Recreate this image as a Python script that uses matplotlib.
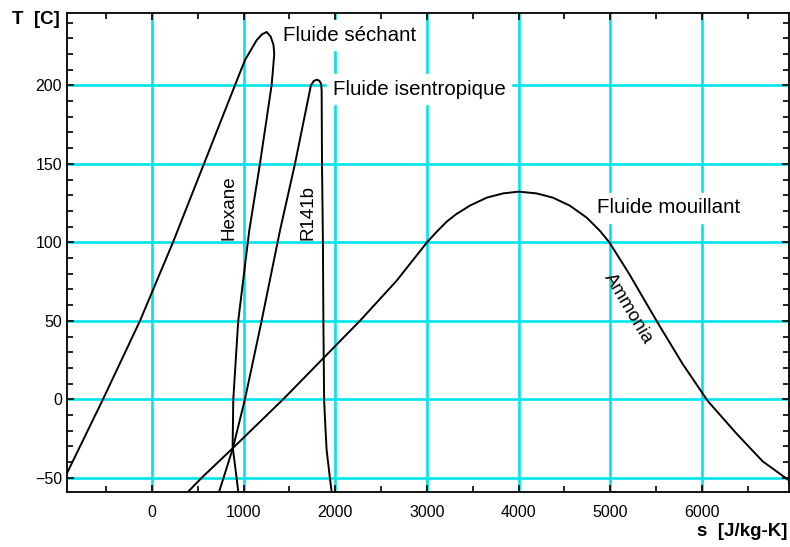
import matplotlib
matplotlib.use("Agg")
import matplotlib.pyplot as plt
from matplotlib.ticker import MultipleLocator

plt.rcParams['font.family'] = ['Liberation Sans', 'DejaVu Sans']

# saturation domes: entropy s [J/kg-K], temperature T [C]
hexane_s = [-1000, -927, -535, -131, 229, 567, 905, 1014, 1141, 1200, 1251,
            1295, 1325, 1334, 1320, 1305, 1178, 1061, 941, 887, 880, 923, 941]
hexane_T = [-55, -47, 0, 50, 100, 150, 200, 216, 228.7, 232.5, 234,
            231, 226, 220, 210, 200, 150, 107.4, 50, 0, -30, -50, -58.6]

r141b_s = [734, 883, 1014, 1196, 1396, 1560, 1734, 1765, 1796, 1825, 1845,
           1851, 1855, 1865, 1870, 1878, 1887, 1905, 1941, 1960]
r141b_T = [-58.6, -31, 0, 50, 107.4, 150, 200, 202.8, 203.6, 203, 201,
           197, 150, 100, 50, 0, -12, -32, -50, -58.6]

ammonia_s = [391, 541, 883, 1430, 2268, 2668, 3000, 3110, 3217, 3320, 3468,
             3653, 3831, 4000, 4195, 4373, 4558, 4744, 4886, 4990, 5205,
             5518, 5790, 6063, 6380, 6663, 6936]
ammonia_T = [-59, -50, -31, 0, 50, 75.5, 100, 107, 113.3, 118, 123.4,
             128.5, 131.2, 132.3, 131.2, 128.5, 123.4, 115.7, 107.4, 100, 80,
             48.7, 22.5, -1, -22, -39.5, -51]

x_ticks = [0, 1000, 2000, 3000, 4000, 5000, 6000]
y_ticks = [-50, 0, 50, 100, 150, 200]

fig = plt.figure(figsize=(7.9, 5.47), dpi=100)
ax = fig.add_axes([0.0848, 0.1005, 0.9140, 0.8755])

ax.set_xlim(-927, 6950)
ax.set_ylim(-59, 246)
ax.set_xticks(x_ticks)
ax.set_yticks(y_ticks)
ax.xaxis.set_minor_locator(MultipleLocator(500))
ax.yaxis.set_minor_locator(MultipleLocator(10))
ax.grid(True, which='major', color='#00e4ec', linewidth=1.9)
ax.set_axisbelow(True)
ax.tick_params(which='both', direction='in', top=True, right=True,
               width=1.2, color='black')
ax.tick_params(which='major', length=5, labelsize=11.5)
ax.tick_params(which='minor', length=4)
ax.tick_params(axis='x', pad=9.5)
ax.tick_params(axis='y', pad=3.5)
for sp in ax.spines.values():
    sp.set_linewidth(1.3)

for s, t in [(hexane_s, hexane_T), (r141b_s, r141b_T), (ammonia_s, ammonia_T)]:
    ax.plot(s, t, color='black', linewidth=1.4, solid_joinstyle='round', zorder=5)

# annotations (white boxes break the grid, curves stay on top)
ax.text(1429, 232, 'Fluide séchant', fontsize=14.8, ha='left', va='center',
        backgroundcolor='white', zorder=3)
ax.text(1974, 197.4, 'Fluide isentropique', fontsize=14.8, ha='left', va='center',
        backgroundcolor='white', zorder=3)
ax.text(4853, 122, 'Fluide mouillant', fontsize=14.8, ha='left', va='center',
        backgroundcolor='white', zorder=3)
ax.text(840, 122, 'Hexane', fontsize=13.5, rotation=90, ha='center', va='center')
ax.text(1701, 119, 'R141b', fontsize=13.5, rotation=90, ha='center', va='center')
ax.text(5191, 58, 'Ammonia', fontsize=13.5, rotation=-59, ha='center', va='center',
        rotation_mode='anchor')

fig.text(12 / 790, 1 - 20 / 547, 'T  [C]', fontsize=13.5, fontweight='bold',
         ha='left', va='center')
fig.text(787 / 790, 1 - 532 / 547, 's  [J/kg-K]', fontsize=13.5, fontweight='bold',
         ha='right', va='center')

fig.savefig('out.png', dpi=100)
